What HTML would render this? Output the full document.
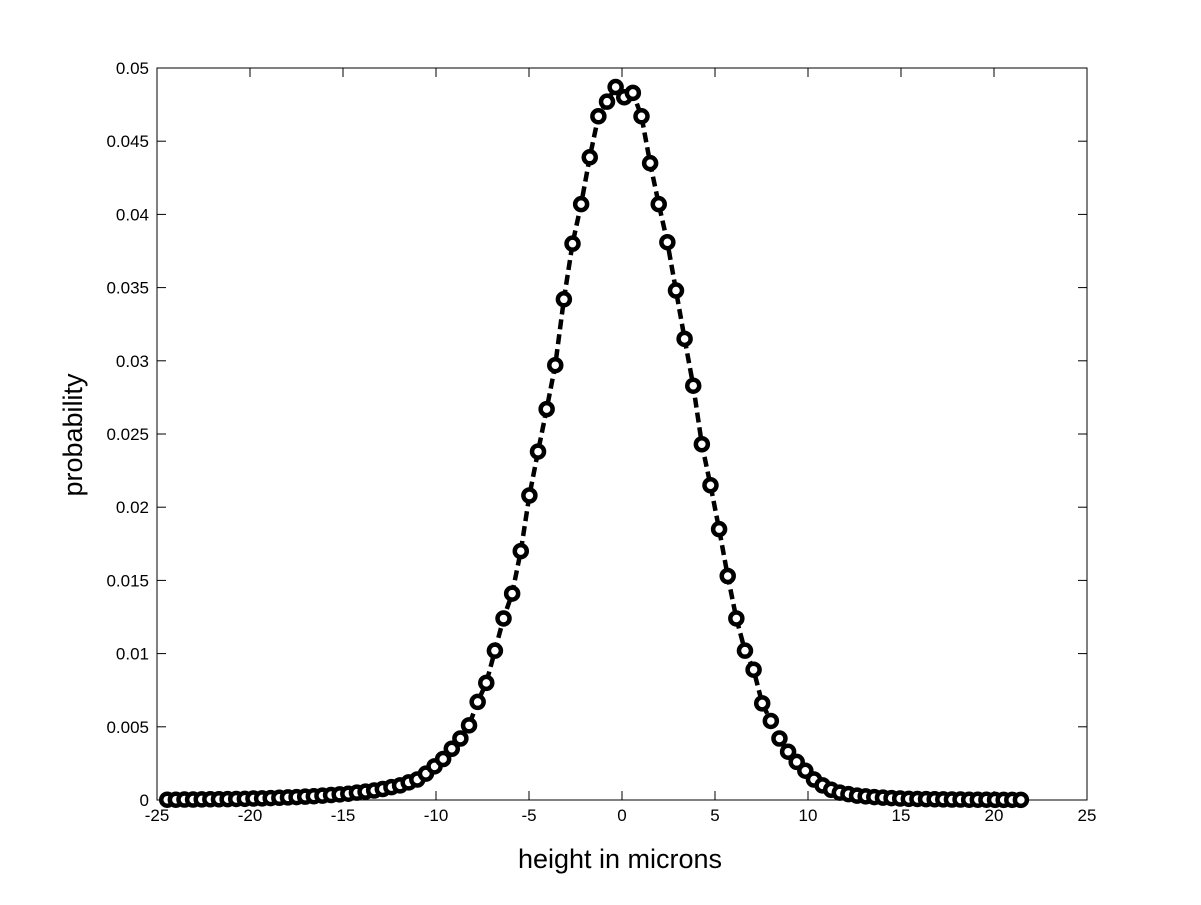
<!DOCTYPE html>
<html><head><meta charset="utf-8"><style>
body{margin:0;background:#fff}
svg text{font-family:"Liberation Sans",sans-serif;fill:#000}
</style></head><body>
<svg id="chart" width="1201" height="900" xmlns="http://www.w3.org/2000/svg">
<rect x="0" y="0" width="1201" height="900" fill="#fff"/>
<g id="axes"></g>
<g id="series"></g>
<text x="620" y="868" font-size="27" text-anchor="middle">height in microns</text>
<text transform="translate(82,435) rotate(-90)" font-size="27" text-anchor="middle">probability</text>
</svg>
<script>
const xStart = -24.45;
const xStep = 0.4636;
const probValues = [
0.00002,0.00002,0.00003,0.00003,0.00004,0.00005,0.00005,0.00006,0.00007,0.00008,0.0001,0.00011,0.00013,0.00015,0.00018,0.0002,0.00023,0.00026,0.0003,0.00034,0.00038,0.00043,0.0005,0.00057,0.00065,0.00075,0.00088,
0.0010,0.0012,0.0014,0.0018,0.0023,0.0028,0.0035,0.0042,0.0051,0.0067,0.0080,0.0102,0.0124,0.0141,0.0170,0.0208,0.0238,0.0267,0.0297,0.0342,0.0380,0.0407,
0.0439,0.0467,0.0477,0.0487,0.0480,0.0483,0.0467,0.0435,0.0407,0.0381,0.0348,0.0315,0.0283,0.0243,0.0215,0.0185,0.0153,0.0124,0.0102,0.0089,0.0066,0.0054,0.0042,0.0033,0.0026,0.0020,0.0014,0.0010,0.0007,
0.0005,0.0004,0.0003,0.00025,0.0002,0.00016,0.00013,0.0001,0.00008,0.00007,0.00006,0.00005,0.00004,0.00003,0.00003,0.00002,0.00002,0.00002,0.00001,0.00001,0.00001,0.00001];
const xTicks = [-25,-20,-15,-10,-5,0,5,10,15,20,25];
const xTickLabels = ["-25","-20","-15","-10","-5","0","5","10","15","20","25"];
const yTicks = [0,0.005,0.01,0.015,0.02,0.025,0.03,0.035,0.04,0.045,0.05];
const yTickLabels = ["0","0.005","0.01","0.015","0.02","0.025","0.03","0.035","0.04","0.045","0.05"];

const L=157,R=1087,T=68,B=800;
const xs=v=>L+(v+25)/50*(R-L);
const ys=v=>B-v/0.05*(B-T);
const NS="http://www.w3.org/2000/svg";
function mk(tag,attrs,parent){const e=document.createElementNS(NS,tag);for(const k in attrs)e.setAttribute(k,attrs[k]);parent.appendChild(e);return e;}
const ax=document.getElementById('axes');
const fr=mk('rect',{x:L,y:T,width:R-L,height:B-T,fill:'none',stroke:'#000','stroke-width':1},ax);


xTicks.forEach((t,i)=>{const x=xs(t);
 const a=mk('line',{x1:x,y1:B,x2:x,y2:B-9,stroke:'#000'},ax);
 
 
 const b=mk('line',{x1:x,y1:T,x2:x,y2:T+9,stroke:'#000'},ax);
 
 
 const tx=mk('text',{x:x,y:B+21,'font-size':17,'text-anchor':'middle'},ax);tx.textContent=xTickLabels[i];
 
 
});
yTicks.forEach((t,i)=>{const y=ys(t);
 const a=mk('line',{x1:L,y1:y,x2:L+9,y2:y,stroke:'#000'},ax);
 
 
 const b=mk('line',{x1:R,y1:y,x2:R-9,y2:y,stroke:'#000'},ax);
 
 
 const tx=mk('text',{x:L-8,y:y+6,'font-size':17,'text-anchor':'end'},ax);tx.textContent=yTickLabels[i];
 
 
});
const sg=document.getElementById('series');
const pts=probValues.map((v,i)=>[xs(xStart+i*xStep),ys(v)]);
const line=mk('polyline',{points:pts.map(p=>p.join(',')).join(' '),fill:'none',stroke:'#000','stroke-width':4.5,'stroke-dasharray':'10,5'},sg);


pts.forEach(p=>{
 const c=mk('circle',{cx:p[0],cy:p[1],r:6,fill:'#fff',stroke:'#000','stroke-width':4.5},sg);
 
 
});
</script>
</body></html>
